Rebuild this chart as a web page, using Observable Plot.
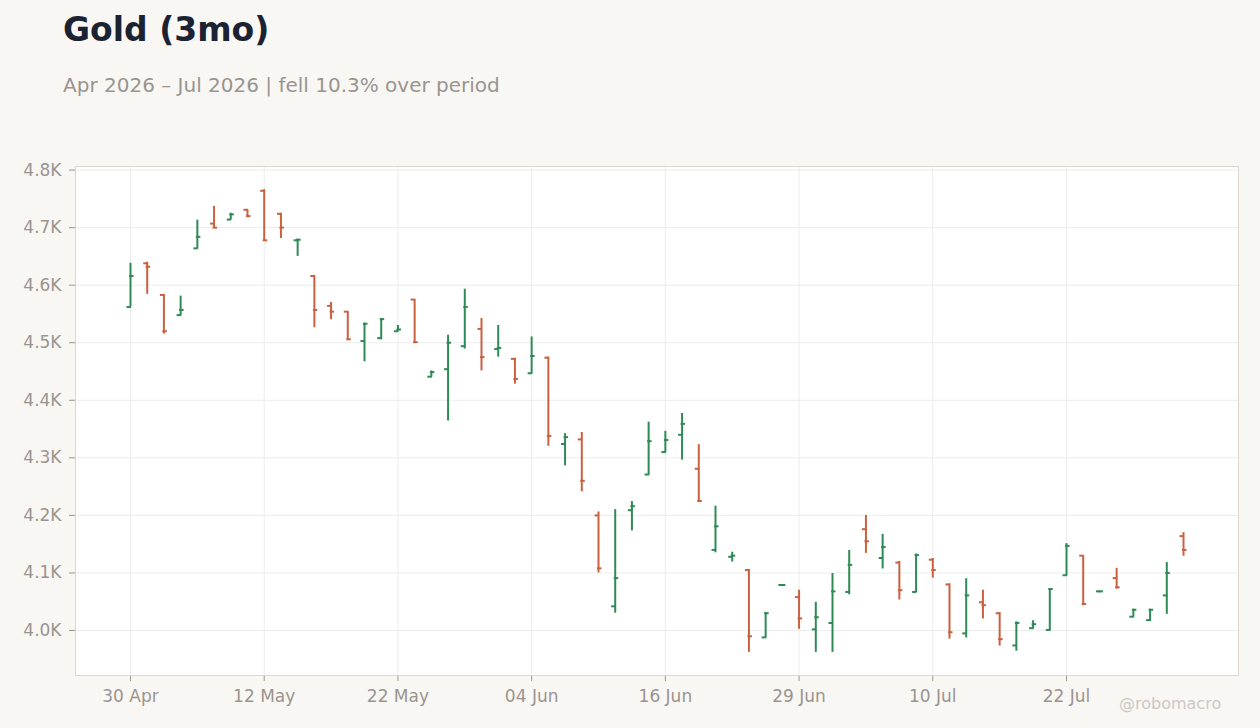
<!DOCTYPE html>
<html>
<head>
<meta charset="utf-8">
<script src="https://cdn.jsdelivr.net/npm/d3@7"></script>
<script src="https://cdn.jsdelivr.net/npm/@observablehq/plot@0.6"></script>
<style>
  html, body { margin: 0; padding: 0; background: #f9f7f4; width: 1260px; height: 728px; overflow: hidden; font-family: "DejaVu Sans", sans-serif; }
  #title { position: absolute; left: 63px; top: 13px; font-size: 33px; line-height: 1; font-weight: bold; color: #1b2333; white-space: nowrap; }
  #subtitle { position: absolute; left: 63px; top: 75px; font-size: 20px; line-height: 1; color: #9a948f; white-space: nowrap; }
  #chart { position: absolute; left: 0; top: 150px; }
  #credit { position: absolute; left: 1119px; top: 696px; font-size: 16px; line-height: 1; color: #cdc8c3; white-space: nowrap; }
</style>
</head>
<body>
<div id="title">Gold (3mo)</div>
<div id="subtitle">Apr 2026 – Jul 2026 | fell 10.3% over period</div>
<div id="chart"></div>
<div id="credit">@robomacro</div>
<script>
const dates = [
  "2026-04-30","2026-05-01","2026-05-04","2026-05-05","2026-05-06","2026-05-07","2026-05-08","2026-05-11",
  "2026-05-12","2026-05-13","2026-05-14","2026-05-15","2026-05-18","2026-05-19","2026-05-20","2026-05-21",
  "2026-05-22","2026-05-26","2026-05-27","2026-05-28","2026-05-29","2026-06-01","2026-06-02","2026-06-03",
  "2026-06-04","2026-06-05","2026-06-08","2026-06-09","2026-06-10","2026-06-11","2026-06-12","2026-06-15",
  "2026-06-16","2026-06-17","2026-06-18","2026-06-22","2026-06-23","2026-06-24","2026-06-25","2026-06-26",
  "2026-06-29","2026-06-30","2026-07-01","2026-07-02","2026-07-06","2026-07-07","2026-07-08","2026-07-09",
  "2026-07-10","2026-07-13","2026-07-14","2026-07-15","2026-07-16","2026-07-17","2026-07-20","2026-07-21",
  "2026-07-22","2026-07-23","2026-07-24","2026-07-27","2026-07-28","2026-07-29","2026-07-30","2026-07-31"
];
const open = [
  4562,4638,4583,4548,4664,4707,4714,4731, 4764,4724,4678,4616,4564,4554,4503,4508,
  4520,4575,4441,4454,4494,4524,4489,4472, 4447,4474,4324,4332,4200,4042,4209,4271,
  4310,4340,4281,4140,4128,4105,3988,4079, 4058,4002,4013,4067,4176,4126,4118,4067,
  4123,4080,3995,4049,4030,3974,4004,4001, 4096,4130,4068,4091,4024,4018,4061,4164
];
const high = [
  4638,4640,4584,4581,4713,4737,4725,4731, 4766,4725,4680,4617,4570,4554,4534,4542,
  4530,4575,4451,4513,4593,4542,4530,4473, 4510,4475,4342,4344,4206,4210,4224,4362,
  4346,4377,4323,4216,4136,4106,4031,4080, 4070,4049,4099,4139,4200,4167,4120,4133,
  4125,4081,4090,4070,4031,4015,4017,4073, 4151,4130,4068,4108,4037,4037,4118,4170
];
const low = [
  4562,4584,4515,4547,4663,4700,4714,4719, 4677,4681,4650,4526,4540,4505,4467,4505,
  4520,4500,4440,4364,4489,4451,4475,4428, 4446,4320,4286,4241,4100,4030,4173,4270,
  4309,4296,4224,4135,4119,3962,3987,4078, 4002,3962,3962,4062,4134,4107,4053,4066,
  4091,3985,3987,4020,3973,3964,4003,3999, 4095,4045,4068,4072,4023,4016,4028,4129
];
const close = [
  4616,4632,4520,4557,4684,4700,4723,4720, 4678,4700,4679,4557,4554,4506,4533,4541,
  4523,4501,4449,4500,4562,4475,4491,4437, 4477,4338,4336,4260,4108,4091,4216,4329,
  4331,4359,4225,4181,4130,3990,4030,4079, 4021,4023,4068,4114,4155,4145,4070,4131,
  4105,3997,4061,4044,3985,4013,4011,4072, 4147,4046,4068,4075,4036,4036,4100,4140
];
const xTickDates = ["2026-04-30","2026-05-12","2026-05-22","2026-06-04","2026-06-16","2026-06-29","2026-07-10","2026-07-22"];
const yTicks = [4000, 4100, 4200, 4300, 4400, 4500, 4600, 4700, 4800];

const upColor = "#2e8a56";
const downColor = "#c9613f";

const data = dates.map((d, i) => ({
  date: d, open: open[i], high: high[i], low: low[i], close: close[i],
  dir: close[i] >= open[i] ? "up" : "down"
}));

const W = 1260, H = 578;
const mL = 75, mR = 22, mT = 16, mB = 53;
const padOuter = 2.79;
const bw = (W - mL - mR) / (dates.length + 2 * padOuter);
const tickLen = 3.5;

const lo = d3.min(low), hi = d3.max(high), pad = (hi - lo) * 0.05;

const parse = d3.utcParse("%Y-%m-%d");
const fmt = d3.utcFormat("%d %b");

const chart = Plot.plot({
  width: W, height: H,
  marginLeft: mL, marginRight: mR, marginTop: mT, marginBottom: mB,
  style: { background: "transparent", color: "#9a948f", fontFamily: "DejaVu Sans", fontSize: "17px", overflow: "visible" },
  x: { type: "band", domain: dates, paddingInner: 0, paddingOuter: padOuter, align: 0.5, label: null },
  y: { domain: [lo - pad, hi + pad], label: null },
  color: { domain: ["up", "down"], range: [upColor, downColor] },
  marks: [
    Plot.frame({ fill: "white", stroke: null }),
    Plot.gridY(yTicks, { stroke: "#ececec", strokeOpacity: 1 }),
    Plot.gridX(xTickDates, { stroke: "#ececec", strokeOpacity: 1 }),
    Plot.axisY(yTicks, { tickSize: 6, tickPadding: 8, tickFormat: v => d3.format(".1f")(v / 1000) + "K", fontSize: 17, stroke: "#9a948f" }),
    Plot.axisX(xTickDates, { tickSize: 6, tickPadding: 8, tickFormat: d => fmt(parse(d)), fontSize: 17, stroke: "#9a948f" }),
    Plot.ruleX(data, { x: "date", y1: "low", y2: "high", stroke: "dir", strokeWidth: 2 }),
    Plot.tickY(data, { x: "date", y: "open", stroke: "dir", strokeWidth: 2, insetLeft: bw / 2 - tickLen, insetRight: bw / 2 - 1 }),
    Plot.tickY(data, { x: "date", y: "close", stroke: "dir", strokeWidth: 2, insetLeft: bw / 2 - 1, insetRight: bw / 2 - tickLen }),
    Plot.frame({ stroke: "#ddd6d0", strokeWidth: 1 })
  ]
});
document.getElementById("chart").appendChild(chart);
</script>
</body>
</html>
